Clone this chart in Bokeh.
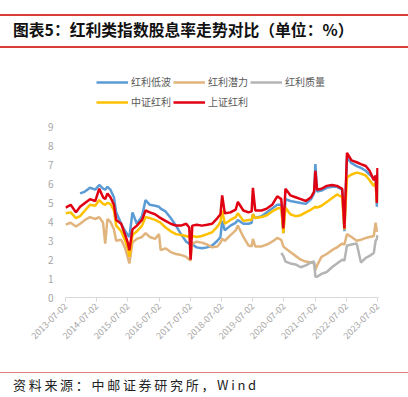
import pandas as pd
from bokeh.plotting import figure
from bokeh.models import Legend, LegendItem, FixedTicker, DatetimeTickFormatter, Range1d, Div
from bokeh.layouts import column
from bokeh.embed import file_html
from bokeh.resources import INLINE
import math

nan = float("nan")

dates = ["2013-07-02", "2013-09-01", "2013-11-01", "2013-12-20", "2014-02-15", "2014-04-15",
         "2014-06-15", "2014-08-01", "2014-09-15", "2014-10-10", "2014-11-05", "2014-12-10",
         "2015-01-20", "2015-02-15", "2015-04-15", "2015-06-01", "2015-07-01", "2015-07-20",
         "2015-08-25", "2015-10-15", "2015-12-15", "2016-01-25", "2016-03-15", "2016-05-15",
         "2016-07-01", "2016-07-20", "2016-09-15", "2016-11-15", "2017-01-15", "2017-03-15",
         "2017-05-15", "2017-06-20", "2017-07-05", "2017-07-25", "2017-09-15", "2017-11-15",
         "2018-01-15", "2018-03-15", "2018-05-15", "2018-06-20", "2018-07-10", "2018-08-10",
         "2018-10-15", "2018-12-15", "2019-01-10", "2019-03-15", "2019-05-15", "2019-06-20",
         "2019-07-05", "2019-08-01", "2019-10-15", "2019-12-15", "2020-02-15", "2020-04-15",
         "2020-06-01", "2020-06-25", "2020-07-20", "2020-09-15", "2020-11-15", "2021-01-15",
         "2021-03-15", "2021-05-15", "2021-06-20", "2021-07-05", "2021-07-25", "2021-09-15",
         "2021-11-15", "2022-01-15", "2022-03-15", "2022-05-15", "2022-06-10", "2022-07-10",
         "2022-09-01", "2022-11-01", "2022-12-20", "2023-02-15", "2023-04-01", "2023-05-20",
         "2023-06-10", "2023-06-25", "2023-07-02"]

# 上证红利
sz_hl = [4.75, 4.9, 4.5, 4.8, 5.0, 5.2, 5.1, 5.75, 5.3, 5.2, 5.5, 5.3,
         4.9, 4.1, 3.9, 3.3, 2.9, 2.5, 3.6, 3.8, 4.1, 4.6, 4.5, 4.4,
         4.25, 4.2, 4.05, 3.9, 3.8, 3.8, 3.9, 3.7, 2.0, 3.8, 3.85, 3.8,
         3.85, 3.9, 4.2, 4.4, 5.4, 4.45, 4.5, 4.65, 5.05, 4.6, 4.5, 4.55,
         5.8, 4.6, 4.6, 4.7, 4.9, 5.35, 5.2, 3.65, 5.75, 5.4, 5.3, 5.2,
         5.1, 5.3, 5.6, 6.7, 5.7, 5.75, 5.9, 5.95, 5.9, 5.75, 3.65, 7.65,
         7.25, 7.15, 7.05, 6.95, 6.7, 6.2, 6.45, 5.0, 6.85]
# 中证红利
zz_hl = [4.45, 4.5, 4.2, 4.3, 4.6, 4.9, 4.85, 5.15, 4.95, 4.9, 5.0, 4.95,
         4.6, 3.8, 3.5, 3.0, 2.6, 2.15, 3.3, 3.5, 3.8, 4.25, 4.2, 4.1,
         4.0, 3.95, 3.7, 3.5, 3.35, 3.3, 3.25, 3.2, 3.0, 3.25, 3.2, 3.25,
         3.35, 3.45, 3.75, 4.0, 4.6, 3.9, 4.1, 4.25, 4.45, 4.05, 4.1, 4.1,
         4.4, 4.2, 4.25, 4.35, 4.55, 4.7, 4.75, 3.4, 4.75, 4.4, 4.3, 4.35,
         4.5, 4.65, 4.75, 4.8, 4.75, 4.85, 5.05, 5.25, 5.45, 5.3, 3.6, 6.35,
         6.5, 6.6, 6.55, 6.45, 6.2, 5.9, 6.05, 5.0, 6.3]
# 红利低波
hl_dibo = [nan, nan, nan, 5.5, 5.6, 5.8, 5.7, 5.95, 5.75, 5.7, 5.85, 5.7,
           5.3, 4.5, 3.9, 3.5, 3.3, 3.2, 4.5, 3.9, 4.3, 5.15, 4.9, 4.85,
           4.8, 4.7, 4.55, 4.2, 3.8, 3.35, 2.95, 2.85, 2.8, 2.8, 2.65, 2.6,
           2.65, 2.75, 3.0, 3.2, 4.05, 3.55, 3.8, 3.95, 4.1, 3.9, 3.9, 3.95,
           4.4, 4.2, 4.3, 4.5, 4.7, 4.9, 4.9, 3.4, 5.2, 5.1, 5.05, 5.0,
           4.95, 5.2, 5.5, 7.05, 5.6, 5.65, 5.8, 5.85, 5.85, 5.7, 3.5, 7.4,
           7.1, 6.95, 6.85, 6.7, 6.5, 6.3, 6.4, 4.8, 6.55]
# 红利潜力
hl_qianli = [3.85, 3.95, 3.75, 3.9, 4.1, 4.25, 4.15, 4.25, 3.95, 2.85, 4.15, 4.0,
             3.6, 3.0, 3.05, 2.6, 2.1, 1.8, 2.9, 3.1, 3.2, 3.4, 3.2, 3.1,
             3.35, 2.5, 2.6, 2.4, 2.3, 2.25, 2.15, 2.0, 1.95, 2.85, 2.95, 2.9,
             2.8, 2.65, 2.7, 2.9, 3.1, 3.0, 3.3, 3.55, 3.8, 3.2, 2.75, 2.7,
             3.1, 2.7, 2.7, 2.8, 2.95, 3.15, 3.05, 2.7, 2.6, 2.4, 2.2, 2.0,
             1.9, 1.85, 1.8, 1.45, 1.7, 2.15, 2.3, 2.5, 2.65, 2.85, 2.8, 3.35,
             3.2, 3.0, 3.05, 3.15, 3.2, 3.25, 3.95, 3.5, 3.55]
# 红利质量
hl_zhiliang = [nan] * 54 + [2.35, 2.2, 1.9, 1.8, 1.75, 1.6,
               1.7, 1.85, 1.9, 1.1, 1.1, 1.25, 1.35, 1.6, 1.8, 2.0, 1.95, 2.75,
               2.8, 2.85, 1.85, 2.1, 2.2, 2.35, 3.0, 3.1, 3.3]

y_ticks = [0, 1, 2, 3, 4, 5, 6, 7, 8, 9]
tick_dates = ["2013-07-02", "2014-07-02", "2015-07-02", "2016-07-02", "2017-07-02",
              "2018-07-02", "2019-07-02", "2020-07-02", "2021-07-02", "2022-07-02",
              "2023-07-02"]

x = pd.to_datetime(dates)
ticks = [pd.Timestamp(d).value // 10**6 for d in tick_dates]

FONT = "Noto Sans CJK SC"
W = 408

# frame: page y 70..297 (0..12.0), page x 65..378
p = figure(width=W, height=317, output_backend="svg", toolbar_location=None,
           x_axis_type="datetime",
           x_range=Range1d(pd.Timestamp("2013-07-02"), pd.Timestamp("2023-07-14")),
           y_range=Range1d(0, 12.0),
           min_border_left=65, min_border_right=30, min_border_top=22, min_border_bottom=68)
p.outline_line_color = None
p.xgrid.grid_line_color = None
p.ygrid.grid_line_color = None
p.background_fill_color = "white"
p.border_fill_color = "white"

lw = 2.5
rb = p.line(x, hl_dibo, line_color="#5B9BD5", line_width=lw)
rp = p.line(x, hl_qianli, line_color="#E2B47D", line_width=lw)
rq = p.line(x, hl_zhiliang, line_color="#B4B4B4", line_width=lw)
ry = p.line(x, zz_hl, line_color="#FFC000", line_width=lw)
rr = p.line(x, sz_hl, line_color="#E00012", line_width=lw)

# axes
p.yaxis.ticker = FixedTicker(ticks=y_ticks)
p.yaxis.axis_line_color = None
p.yaxis.major_tick_line_color = None
p.yaxis.minor_tick_line_color = None
p.yaxis.major_label_text_color = "#A6A6A6"
p.yaxis.major_label_text_font = FONT
p.yaxis.major_label_text_font_size = "10px"
p.yaxis.major_label_standoff = 6

p.xaxis.ticker = FixedTicker(ticks=ticks)
fmt = "%Y-%m-%d"
p.xaxis.formatter = DatetimeTickFormatter(days=fmt, months=fmt, years=fmt, hours=fmt,
                                          minutes=fmt, seconds=fmt, milliseconds=fmt,
                                          microseconds=fmt, minsec=fmt, hourmin=fmt)
p.xaxis.axis_line_color = "#D9D9D9"
p.xaxis.major_tick_line_color = "#D9D9D9"
p.xaxis.major_tick_out = 4
p.xaxis.major_tick_in = 0
p.xaxis.minor_tick_line_color = None
p.xaxis.major_label_orientation = math.pi / 4
p.xaxis.major_label_text_color = "#A6A6A6"
p.xaxis.major_label_text_font = FONT
p.xaxis.major_label_text_font_size = "9px"
p.xaxis.major_label_standoff = 3


def mk_legend(items, loc):
    lg = Legend(items=items, orientation="horizontal", location=loc,
                padding=0, margin=0, spacing=2, label_standoff=3,
                glyph_width=32, glyph_height=12, label_height=12,
                border_line_color=None, background_fill_alpha=0,
                label_text_font=FONT, label_text_font_size="10px",
                label_text_color="#595959")
    return lg

leg1 = mk_legend([LegendItem(label="红利低波", renderers=[rb]),
                  LegendItem(label="红利潜力", renderers=[rp]),
                  LegendItem(label="红利质量", renderers=[rq])], (31, 208))
leg2 = mk_legend([LegendItem(label="中证红利", renderers=[ry]),
                  LegendItem(label="上证红利", renderers=[rr])], (31, 188))
p.add_layout(leg1, "center")
p.add_layout(leg2, "center")

title_html = (
    '<div style="position:relative;width:408px;height:48px;">'
    '<div style="position:absolute;left:0;top:14px;width:408px;height:1.5px;background:#D93A3A;"></div>'
    '<div style="position:absolute;left:13px;top:20px;font-family:\'Noto Sans CJK SC\';'
    'font-weight:bold;font-size:15.8px;line-height:20px;color:#111;white-space:nowrap;">'
    '图表5：红利类指数股息率走势对比（单位：%）</div>'
    '<div style="position:absolute;left:0;top:46px;width:408px;height:1.5px;background:#D93A3A;"></div>'
    '</div>'
)
title_div = Div(text=title_html, width=W, height=48, margin=(0, 0, 0, 0))

footer_html = (
    '<div style="position:relative;width:408px;height:32px;">'
    '<div style="position:absolute;left:0;top:6.5px;width:408px;height:1.5px;background:#E07C7C;"></div>'
    '<div style="position:absolute;left:13px;top:12px;font-family:\'Noto Sans CJK SC\';'
    'font-size:13px;letter-spacing:2.7px;line-height:16px;color:#222;white-space:nowrap;">'
    '资料来源：中邮证券研究所，Wind</div>'
    '</div>'
)
footer_div = Div(text=footer_html, width=W, height=32, margin=(0, 0, 0, 0))

layout = column(title_div, p, footer_div, spacing=0)

open("out.html", "w").write(file_html(layout, INLINE))
